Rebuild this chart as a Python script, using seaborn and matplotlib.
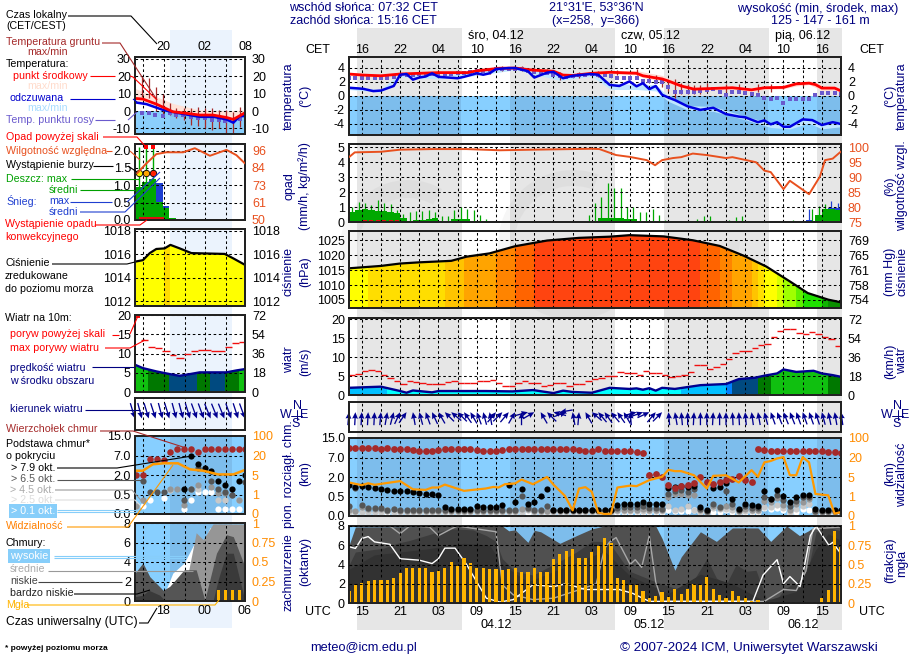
import numpy as np
import matplotlib
matplotlib.use("Agg")
import matplotlib.pyplot as plt
from matplotlib.patches import Wedge
import seaborn as sns

W, H = 910, 660
nan = float("nan")

# ---- main meteogram (hours since 13 UTC on 03.12)
hours = list(range(78))
day_bands = [(1.27, 17.53), (25.27, 41.53), (49.27, 65.53), (73.27, 77)]
cet_labels = ["16", "22", "04", "10", "16", "22", "04", "10", "16", "22", "04", "10", "16"]
utc_labels = ["15", "21", "03", "09", "15", "21", "03", "09", "15", "21", "03", "09", "15"]

temp_h = [0, 2.2, 5, 8, 14, 18.5, 20, 23.5, 26, 28.8, 32, 33.5, 35, 38, 41, 45, 46, 49, 50, 52, 54, 60, 63, 65, 68, 70, 72, 73, 74, 76, 77]
temp_mid = [3.1, 2.95, 2.85, 3.1, 3.3, 3.3, 3.55, 3.9, 3.95, 3.65, 3.5, 2.95, 2.9, 3.2, 3.35, 3.2, 2.85, 2.4, 2.1, 1.4, .95, 1.15, .85, 1.15, 1.2, 1.7, 1.8, 1.6, 1.1, 1.1, .7]
temp_hi = [3.3, 3.2, 3.1, 3.3, 3.5, 3.5, 3.8, 4.3, 4.2, 3.9, 3.7, 3.2, 3.1, 3.4, 3.6, 3.6, 3.4, 2.9, 2.5, 1.7, 1.3, 1.4, 1.2, 1.4, 1.4, 2.0, 2.1, 2.0, 1.5, 1.4, 1.0]
temp_lo = [2.9, 2.7, 2.6, 2.9, 3.1, 3.1, 3.3, 3.7, 3.7, 3.4, 3.2, 2.7, 2.6, 3.0, 3.1, 3.0, 2.6, 2.1, 1.8, 1.1, .7, .9, .6, .9, 1.0, 1.4, 1.6, 1.2, .7, .8, .4]

feels_h = [0, 2.2, 3.8, 5, 7, 8, 9, 10, 11, 12, 13, 14, 17, 18, 20, 21, 22, 23, 25, 26, 28, 29, 31, 32, 33.5, 35, 37.7, 39, 40.8, 42.3, 43.9, 45, 46, 47, 48, 49, 50, 51, 53, 55, 57, 59, 61, 62, 64, 65, 66, 67, 68, 69, 71, 72.5, 74, 75.7, 77]
feels = [1.15, 1.0, .67, .75, 1.4, 3.0, 3.1, 2.3, 2.6, 2.75, 3.2, 2.7, 2.5, 2.7, 3.2, 3.0, 3.2, 3.8, 3.95, 3.95, 3.5, 2.6, 3.3, 3.4, 2.5, 2.85, 3.1, 3.0, 1.55, 1.4, 2.05, 1.35, 1.8, .95, 1.4, .15, -.25, -.6, -1.5, -2, -1.7, -2.6, -2.95, -3.05, -3.75, -3.5, -4.05, -3.75, -4.4, -4.4, -3.35, -3.45, -4.15, -3.75, -4]
feels_shade_h = [0, 5, 8, 14, 20, 26, 33, 38, 41, 45, 48, 50, 53, 57, 62, 66, 69, 72, 74, 77]
feels_hi = [1.3, .9, 3.2, 2.9, 3.4, 4.2, 2.8, 3.2, 1.8, 1.6, 1.6, -.1, -1.4, -1.5, -2.9, -3.9, -4.2, -3.2, -3.9, -3.6]
feels_lo = [.9, .5, 2.7, 2.4, 2.9, 3.7, 2.2, 2.8, .9, .9, .7, -.8, -2.0, -2.2, -3.4, -4.5, -4.7, -3.9, -4.7, -4.4]

dew = [2.6, 2.6, 2.55, 2.6, 2.6, 2.55, 2.6, 2.7, 2.9, 3.0, 3.0, 3.05, 3.0, 3.1, 3.1, 3.1, 3.15, 3.2, 3.3, 3.4, 3.5, 3.6, 3.7, 3.75, 3.8, 3.85, 3.8, 3.75, 3.5, 3.4, 3.35, 3.3, 3.0, 2.8, 2.7, 2.8, 2.9, 3.0, 3.05, 3.0, 3.0, 2.75, 2.5, 2.5, 2.5, 2.5, 2.15, 2.15, 1.95, 2.0, 1.2, .6, .6, .6, .6, .7, .85, .95, .6, .15, .5, .5, .4, .2, .15, -.25, -.4, -.35, -1.05, -.45, -.4, -.45, -.5, .15, .4, .4, .4, .3]

ground_h = [20, 22, 24, 27, 29, 31, 33, 36, 39, 42, 45, 47, 48, 49, 50, 51, 52, 53, 54, 55, 56, 59, 61, 64, 66, 68, 71]
ground_max = [3.6, 3.7, 4.3, 4.2, 3.9, 3.8, 3.4, 3.4, 3.5, 3.7, 3.8, 3.0, 2.9, 2.5, 2.3, 2.4, 1.8, 1.7, 1.6, 1.6, 1.8, 1.7, 1.7, 1.7, 1.7, 1.6, 1.9]
ground_min = [3.0, 3.1, 3.6, 3.5, 3.2, 3.2, 2.2, 2.6, 2.7, 3.0, 2.9, 2.0, 1.8, 1.3, .7, -.3, .3, .3, .2, .2, .5, .5, .6, .6, .5, .9, 1.4]

rh_h = [0, .9, 5, 8, 13, 18.4, 23.6, 28.8, 38, 39.2, 41.8, 43.9, 46.6, 47.9, 49, 50.7, 52, 53.8, 56, 59, 60, 63.7, 65, 66, 68, 69, 71, 72, 73.7, 74.5, 75.7, 77]
rh = [96.7, 98.3, 98.5, 99.2, 99.4, 99.4, 99, 99.2, 99.5, 99.4, 97.4, 96.8, 95.7, 94, 95.7, 96.4, 96.7, 97.9, 97.4, 96.4, 96.7, 95, 92.2, 91.7, 86, 88.8, 85.8, 84.3, 90.2, 95.7, 96.2, 98.6]

rain_mean = [.65, .8, .85, .8, .75, .75, .7, .6, .25, .1, .12, .15, .2, .25,
             .02, .02, .2, .2, .2, .1, .08, .06, .02, .02, .02, .01,
             0, 0, 0, 0, 0, 0, 0, 0, 0, 0, 0, 0, .02,
             .25, .3, .3, .3, .2, .2, .1, .1, .1, .02,
             0, 0, 0, 0, 0, 0, 0, 0, 0, 0, 0, 0, 0, 0, 0, 0, 0, 0, 0, 0, 0, 0, 0,
             .1, .5, .85, .85, .8, .8]
rain_max_h = [.5, 1.5, 2.5, 3.5, 4.5, 5.5, 6.5, 7.5, 8.5, 9.5, 10.5, 11.5, 12.5, 13.5, 14.5, 15.5, 16.5, 17.5, 18.5, 19.5, 20.5, 21.5, 23.5, 25.5, 37.5, 38.5, 39.5, 40.5, 41.5, 42.5, 43.5, 44.5, 45.5, 46.5, 47.5, 48.5, 49.5, 54.5, 55.5, 56.5, 59.5, 60.5, 61.5, 62.5, 68.5, 69.5, 72.5, 73.5, 74.5]
rain_max = [1.0, 1.35, 1.25, 1.15, 1.45, 1.25, 1.2, .8, .55, .65, .75, .75, .8, .65, .4, .4, .8, 1.0, .85, .8, .5, .2, .1, .1, .45, 1.25, 1.65, 2.6, 2.25, 2.3, 1.0, 1.0, .7, .7, .85, .45, .15, .2, .4, .4, .15, .35, .4, .1, .1, .15, .9, 1.1, 1.2]
snow_h = [72, 75.5, 76.5]
snow_mean = [.15, .95, .95]
snow_max = [.9, 1.4, 1.25]
convective_h = [2.5, 3.5, 4.5, 5.5, 6.5, 7.5]

press_h = [0, 5, 8, 11, 16, 18.4, 22, 26, 31, 36, 40.8, 43.9, 49.2, 53.8, 58, 61.8, 65.3, 69, 71.8, 75, 77]
press = [1015.6, 1016.4, 1017.2, 1017.6, 1018.1, 1019.5, 1020.6, 1023, 1024.9, 1025.8, 1026.2, 1026.7, 1026.3, 1025, 1023.1, 1019.8, 1016.2, 1011.2, 1007.3, 1005.1, 1004.2]
press_bounds = [1005, 1006, 1008, 1010, 1012, 1014, 1016, 1018, 1019, 1021, 1023, 1024.3]
press_cols = ["#0a9000", "#10b400", "#20e000", "#60f000", "#a0ff00", "#d8ff00", "#ffff00", "#ffde00", "#ffc400", "#ffa400", "#ff8400", "#ff6400", "#ff4410"]

wind_h = [0, 5, 8, 9, 10, 13, 14, 18, 21.4, 25.6, 28.8, 32, 33.5, 35, 38, 39.2, 40.8, 42.3, 43.9, 45, 46, 47, 48, 49, 51, 53, 55, 59, 61, 63.5, 65, 67, 68, 70, 72.7, 74, 75.7, 77]
wind = [1.9, 2.2, 1.05, .6, 1.2, .7, 1.05, 1.05, 1.05, .95, 1.3, .5, 1.15, .8, .6, 1.15, 1.9, 1.75, 1.6, 1.75, 1.4, 1.8, 1.15, 1.9, 1.6, 2.1, 2.6, 2.9, 4.2, 4.55, 5.1, 5.7, 6.75, 6.1, 6.4, 5.7, 5.25, 4.8]
wind_bounds = [1.9, 3.0, 3.6, 4.9, 5.5]
wind_cols = ["#00ffff", "#00bfff", "#0080ff", "#004a80", "#007800", "#10c010"]
gust = [5.4, 5.6, 6.4, 6.7, 6.3, 5.2, 4.6, 3.7, 2.8, 3.6, 3.5, 3.3, 3.0, 2.9, 3.0, 3.5, 3.7, 3.3, 3.3, 3.2,
        3.6, 3.8, 3.9, 3.1, 2.5, 2.5, 3.3, 3.6, 3.3, 3.1, 2.4, 2.6, 3.3, 3.3, 2.5, 3.0, 3.0, 3.7, 4.2, 4.6,
        5.0, 5.1, 6, 5.7, 5.9, 5.4, 6.3, 5.7, 5.7, 5.2, 4.7, 4.9, 5.2, 6, 7.8, 7.8, 7, 7.3, 8.1, 9.6,
        11.2, 11.5, 11.7, 12.5, 13.2, 13.4, 15.2, 17, 17.5, 17.5, 16.4, 16.2, 16.7, 16.2, 15.2, 14.9, 13, 12.8]
wind_dir = [5, 3, 3, 3, 3, 5, 10, 15, 25, 35,
            -10, -15, -20, -25, -30, -45, -50, -45, -35, -30, -20, -15, -10,
            40, 45, 40, 30, 0, 75, 60,
            -30, -45, -75, -100, 70, -10, 5, -30, -50, -40,
            -35, -40, -35, -30, -5, 75, 70, 65, 40, 45,
            -5, -10, -5, 0, 3, 0, 0, 3, 0, 0, -3, -3,
            -5, -8, -10, -15, -20, -22, -22, -22, -20, -20, -20, -18, -15, -12, -10, -8]

# cloud heights are kept in tick steps of the uneven axis (0 / 0.5 / 2 / 7 / 15 km)
cloud_top = [3.47, 3.47, 3.47, 3.47, 3.47, 3.42, 3.47, 3.42, 3.42, 3.42, 3.38, 3.33, 3.33, 3.33, 3.38, 3.42, 3.42, 3.42, 3.42, 3.42,
             3.36, 3.33, 3.33, 3.33, 3.38, 3.42, 3.42, 3.42, 3.42, 3.42, 3.42, 3.42, 3.42, 3.42, 3.42, 3.42, 3.38, 3.33, 3.33, 3.42, 3.33,
             3.33, 3.33, 3.33, 3.33, 3.26, 3.21, 2.09, 2.13, 2.0, 1.61, 1.44, 1.55, 1.61, 1.67, 2.01, 1.72, 1.63, 1.72, 1.84, 1.92, 2.04, 1.84, 1.72,
             3.42, 3.38, 3.33, 3.33, 3.33, 3.33, 3.33, 3.33, 3.33, 3.33, 3.33, 3.3, 3.26, 3.23]
base_79 = [1.58, 1.49, 1.53, 1.51, 1.44, 1.36, 1.32, 1.29, 1.27, 1.27, 1.24, 1.2, 1.15, 1.12, 1.1, .46, .34, .34, .34, .38, .52, .45, .45, .46, .58,
           1.58, .74, 1.41, .62, .74, 1.03, 1.41, .29, .29, .29, .29, .29, .29, .29, .29, .29, .29,
           .55, .64, .64, .64, .72, .64, .6, .6, 1.46, 1.49, 1.55, 1.48, 1.53, .46, .29, 1.44, 1.49, 1.67, .89, .34, .64, .58, .5, 1.29, .86, 1.32, 1.01, .72, .98, 1.1, 1.1, .34, .31, .29, .29, .29]
base_65 = [.5, 1.43, .55, .42, .42, .42, .3, .36, .3, .29, .29, .29, .29, .29, .29, .29, .29, .29, .29, .29, .29, .29, .29, .29, .29, .29, .29,
           1.03, .43, .29, .29, .5, .29, .29, .29, .29, .29, .29, .29, .29, .29, .29,
           .4, .45, .45, .45, .5, .4, .4, .35, 1.15, 1.3, 1.35, 1.25, 1.4, .35, .25, .6, .45, 1.3, .6, .3, .5, .4, .4, 1.0, .85, 1.1, .8, .5, .75, .95, .95, .25, .25, .25, .25, .25]
base_45 = [.3, .27, .45, .38, .38, .38, .27, .38, .27, .27, .27, .27, .27, .27, .27, .27, .27, .27, .27, .27, .27, .27, .27, .27, .27, .27, .27,
           .38, .38, .27, .27, .27, .27, .27, .27, .27, .27, .27, .27, .27, .27, .27,
           .3, .3, .3, .3, .35, .3, .3, .3, 1.0, 1.15, 1.15, 1.1, 1.1, .3, .22, .5, .4, .5, .45, .25, .35, .3, .3, .75, .7, .9, .55, .3, .6, .7, .85, .22, .22, .22, .22, .22]
base_25 = [.22, .22, .22, .22, .22, .22, .3, .22, .22, .22, .22, .22, .22, .22, .22, .22, .22, .22, .22, .22, .22, .22, .22, .22, .22, .22, .22,
           .22, .3, .22, .22, .22, .22, .22, .22, .22, .22, .22, .22, .22, .22, .22,
           .25, .25, .25, .25, .25, .25, .25, .25, .5, .3, .35, .5, .3, .22, .2, .4, .35, .35, .3, .2, .25, .25, .25, .45, .45, .55, .4, .22, .35, .5, .6, .2, .2, .2, .2, .2]
base_01 = [.15, .15, .15, .15, .15, .15, .15, .15, .15, .15, .15, .15, .15, .15, .15, .15, .15, .15, .15, .15, .15, .15, .15, .15, .15, .15, .15,
           .15, .15, .15, .15, .15, .15, .15, .15, .15, .15, .15, .15, .15, .15, .15,
           .17, .2, .2, .2, .2, .2, .2, .2, .3, .25, .25, .25, .3, .18, .17, .22, .2, .3, .22, .17, .2, .2, .2, .4, .35, .4, .3, .17, .22, .35, .3, .29, .1, .1, .1, .1]
vis_h = [0, 2, 3, 4, 8, 10, 12, 13, 14, 15, 18, 21.4, 22.6, 23.4, 24.4, 26, 27, 28.8, 31, 32, 33.8, 35, 36, 37, 38, 39, 40, 41, 42, 44, 45, 47, 49, 50, 51, 52, 54, 56, 57, 59, 61, 63, 64, 65, 66, 67, 68, 69, 70, 71, 72, 73, 75, 76, 77]
vis = [1.72, 1.58, 1.68, 1.6, 1.79, 1.37, 1.34, 1.46, 1.46, 1.61, 1.29, 1.41, 1.49, 1.46, 1.63, 1.67, 1.87, 1.63, 2.0, 1.61, 1.03, .29, 1.41, 1.48, 1.24, .17, .1, .12, 1.46, 1.56, 1.53, 1.84, 2.01, 2.37, 2.3, 2.3, 2.09, 1.41, 2.06, 2.09, 1.72, 2.35, 2.01, 2.75, 2.82, 2.95, 3.02, 2.09, 2.09, 3.02, 2.75, 1.13, 1.06, .12, .2]

cloud_low_h = [0, 1, 24, 25, 26, 28, 29, 30, 33, 35.6, 38, 40, 48, 49, 51, 52, 55, 57.5, 60, 64, 66, 68.5, 70.5, 71.9, 73, 77]
cloud_low = [6.0, 7.9, 8, 7.5, 7.6, 6.3, 7.55, 7.4, 6.2, 7, 7.7, 8, 8, 6.7, 3.4, 4.8, 7.4, 6.4, 7.8, 7.8, 6.4, 8, 7, 7.5, 8, 8]
cloud_mid_h = [0, 1, 5.4, 7.5, 9.5, 13, 16, 19.4, 21.5, 23, 24, 26, 28.8, 32, 35.6, 38, 39.2, 40.8, 42.3, 43.9, 45.4, 48, 51.2, 53.8, 56, 57.5, 59, 60.6, 62.2, 63.7, 65.3, 66.8, 68.3, 70, 71.8, 73.1, 74.7, 77]
cloud_mid = [3.95, 5.3, 5.7, 6.2, 6.5, 7.2, 7.7, 7.6, 7, 6.4, 4.6, 3.3, 2.9, 4, 5.3, 6.4, 6.4, 6.2, 4.8, 3.3, 2.9, 2.2, 1.5, 2.2, 4.6, 2.6, 1.9, 4, 3.3, 3.4, .5, .3, 1.5, 2.2, 3.3, 7.4, 7.9, 7.5]
cloud_vlow_h = [0, 4, 12, 18, 22, 24, 28, 34, 40, 44, 50, 55, 60, 65, 70, 73, 75, 77]
cloud_vlow = [3.5, 5, 5.6, 6.2, 6, 4, 2.2, 3.8, 5.4, 2.8, 1.0, 3, 2, .2, 1.2, 5.5, 7.2, 6.5]
high_h = [0, 1, 2, 3, 4, 6.4, 8, 11, 13, 14, 15, 16.6, 18.4, 21.5, 23.6, 25.7, 28.8, 32, 34, 37, 40.8, 42.3, 44.4, 47, 63.2, 64.8, 67, 68, 69, 70.6, 71.2, 72.2, 73.1, 75.1, 75.7, 77]
high = [5.85, 5.67, 6.7, 6.9, 6.35, 6.1, 4.6, 4.45, 4.1, 4.6, 5.7, 5.7, 4, .5, .1, .35, 1.9, 1.7, 2, 1.4, 1.4, 1.4, 1, .17, .17, 2.9, 4.5, 2, 2.75, 1.7, 3.6, 7, 8, 6, 6.3, 5.1]
mid_h = [0, 6.4, 8, 9.5, 12.6, 14, 16, 17, 23, 24, 25.7, 28.8, 32, 36.6, 38.7, 40, 40.8, 41.8, 44, 44.8, 45.8, 47, 48, 49, 65, 68, 70, 71.5, 72.6, 77]
mid = [8, 8, 7.2, 8, 7.9, 7, 7.7, 8, 7.4, 1.9, .85, .35, .5, 1.5, 2, 5.67, 6.35, 6.8, 4, 4.5, 3.7, 7, 2.2, .17, .17, 1.4, 1.3, 3.3, 7.7, 7.9]
fog = [.15, .24, .26, .29, .3, .3, .3, .33, .39, .45, .46, .45, .46, .4, .42, .46, .53, .48, .58, .52,
       .46, .46, .44, .44, .43, .44, .45, .4, .4, .46, .4, .4, .57, .64, .68, .7, .59, .59, .66, .74, .84,
       .78, .33, .3, .24, .24, .16, .06, .09, .14, .08, .18, .12, .18, .25, .24, .34, .18, .11, .06, .16, .09, .06, .02, .04,
       0, 0, 0, 0, 0, 0, 0, 0, 0, .06, .17, .93, .73]

# ---- small left panel (hours since 14 UTC)
l_temp_h = [0, 1.15, 3.1, 5.5, 7.5, 9.4, 11.35, 13.3, 14.3, 16]
l_temp = [7.3, 6.9, 4, -.4, -1.3, -2.3, -2.3, -3.7, -4.8, -1]
l_feels_h = [0, 1.65, 4.1, 6.5, 9.4, 11.35, 13.3, 14.3, 15.25, 16]
l_feels = [5, 4, .6, -1.3, -3.3, -3.3, -4.8, -6.7, -2.9, -2.9]
l_shade_h = [0, 3.1, 5.5, 9.4, 13.3, 16]
l_temp_hi = [13, 8.3, 4.4, .6, .2, .6]
l_temp_lo = [6, 3, -1, -3, -5, -2]
l_feels_hi = [-1, -2, -3, -4, -5, -3]
l_feels_lo = [-10, -11, -12, -13, -13, -11]
l_dew_h = [1, 2, 2.9, 4.1, 5.05, 6, 7, 8.2, 9.2, 10.15, 11.2, 12.2, 13.15, 15.25]
l_dew = [-1.3, -1.3, -2.3, -2.9, -1.3, -2.3, -2.3, -3.3, -4.2, -4.2, -5.2, -5.2, -5.6, -4.8]
l_gr_h = [1, 2, 3.1, 4.1, 5.05, 6, 7.15, 8.2, 9.2, 10.15, 11.2, 12.2, 13.3, 14.3, 15.25]
l_gr_max = [19.8, 18.8, 13.6, 10, 4.4, 1.5, 1.5, 1.5, 2.1, 1.5, 1.5, .6, .6, -.4, 2.5]
l_gr_min = [8.3, 7.7, -.2, -3, -2.3, -4.2, -5.2, -8, -8.6, -10, -11, -10, -12.7, -12.7, -9]

l_rh_h = [.3, 1.65, 3.1, 4.55, 7, 8.7, 10.9, 13.3, 14.75, 16]
l_rh = [81, 87.5, 93.7, 94.9, 94.9, 97.6, 92.6, 96.5, 93, 87.5]
l_rain = [.96, 1.1, 1.18, .53, .34, .05]
l_snow_h = [3.5, 4.5]
l_snow = [1.08, .41]
l_rain_max_h = [.6, 1.55, 2.6]
l_storm_cols = ["#ffee00", "#ffa500", "#ff2000"]

l_press_h = [0, 1.15, 2.15, 3.1, 4.3, 5.15, 6.5, 8.2, 13.05, 14.3, 16]
l_press = [1015.37, 1015.5, 1016.1, 1016.45, 1016.5, 1016.8, 1016.5, 1016.1, 1016.03, 1015.65, 1015.1]

l_wind_h = [0, 1.15, 3.1, 5.05, 6.5, 8, 9.4, 13.3, 14.75, 16]
l_wind = [7.07, 6.2, 5.35, 4.65, 4.2, 4.65, 5.1, 5.1, 5.6, 5.95]
l_wind_edges = [0, 1.84, 4.9, 9, 10.96, 13.15, 15.1, 16]
l_wind_cols = ["#10c010", "#007800", "#004a80", "#007800", "#004a80", "#007800", "#10c010"]
l_gust_start = [.9, 1.9, 2.9, 3.9, 5.05, 6, 7.15, 8.1, 9.1, 11.1, 13.15, 14.1, 15.1]
l_gust_end = [1.9, 2.9, 3.9, 5.05, 6, 7.15, 8.1, 9.1, 11.1, 13.15, 14.1, 15.1, 16]
l_gust = [13.5, 11.7, 11.4, 10.6, 9.7, 8.9, 9.8, 10.6, 10.9, 10.6, 11.7, 12.7, 12.9]
l_dir = [163, 165, 163, 162, 165, 163, 165, 165, 163, 160, 160, 158, 158, 158, 160, 162, 160]

l_dot_h = [.2, 1.15, 2.15, 3.2, 4.2, 5.15, 6.1, 7.15, 8.1, 9.2, 10.15, 11.1, 12.1, 13.15, 14.1, 15.1, 16]
l_top = [2.0, 2.0, 2.82, 2.82, 2.77, 3.2, 3.32, 3.32, 3.32, 3.2, 3.32, 3.32, 3.32, 3.32, 3.32, 3.32, 3.32]
l_b79 = [nan, nan, nan, nan, nan, nan, nan, 1.26, 2.97, 2.55, 2.34, 2.2, 1.69, 1.49, 1.26, 1.69, 2.0]
l_b65 = [nan, 1.69, 1.11, 1.11, 1.11, nan, nan, .72, 1.26, 2.34, nan, 1.69, 1.26, 1.11, .97, nan, 1.66]
l_b45 = [.41, .72, nan, nan, nan, 1.26, 1.26, .46, 1.26, 1.49, nan, 1.4, 1.06, 1.06, .97, .72, nan]
l_b25 = [.41, nan, nan, nan, nan, 1.22, nan, nan, nan, 1.26, nan, nan, .72, .72, nan, .72, nan]
l_b01 = [nan, .41, .72, nan, .8, nan, nan, .24, .72, 1.15, 1.15, 1.15, .24, .24, .24, .24, nan]
l_vis_h = [0, 1.15, 2.6, 4.1, 6.25, 8, 9.9, 12.1, 14.3, 16]
l_vis = [2.22, 2.22, 2.55, 2.6, 2.6, 2.29, 2.22, 2.03, 2.03, 2.26]

l_high_h = [0, 4.3, 5.5, 7.15, 8.7, 9.9, 10.9, 14.3, 16]
l_high = [0, .8, 2.86, 3.9, 6, 6, 7.5, 7.7, 6]
l_mid_h = [0, 6.5, 7.15, 8.9, 9.9, 11.35, 16]
l_mid = [0, 0, .8, 7, 6.3, 7.9, 7.9]
l_low_h = [0, 1.15, 2.15, 4.1, 5.05, 7.15, 8.9, 10.15, 11.85, 13.3, 14.3, 16]
l_low = [2.86, 3.9, 2.5, 1.1, 1.5, 3.2, 3.2, .1, 4.9, 6.8, 6.6, 3.5]
l_vlow_h = [0, 1.15, 2, 3.6, 4.4, 11.35, 12.1, 13.3, 14.3, 16]
l_vlow = [.45, .6, 1.1, .6, 0, 0, 2.2, 4.9, 4.9, 0]
l_fog_h = [12.2, 13.2, 14.2, 15.2]
l_fog = [.14, .14, .14, .14]

# ---- colours and page positions
NAVY = "#000080"
ORANGE = "#ff8c00"
RH_COL = "#e8501e"
SKY = "#87cefa"
SKY_DAY = "#87cfff"
SKY_BAND = "#7dbdec"
BROWN = "#a52a2a"
PURPLE = "#6a5acd"
GOLD = "#ffb400"
MAIN_X = (349, 841)
LEFT_X = (135, 245)
PANEL_MAIN_Y = {"temp": (57, 135), "rain": (144, 222), "press": (231, 308), "wind": (318, 395),
                "dir": (402, 432), "base": (438, 516), "cover": (526, 603)}
PANEL_LEFT_Y = {"temp": (57, 134), "rain": (144, 220), "press": (229, 306), "wind": (315, 392),
                "dir": (398, 430), "base": (436, 514), "cover": (523, 601)}

sns.set_theme(style="white")
plt.rcParams["font.family"] = ["Liberation Sans", "DejaVu Sans"]
plt.rcParams["grid.color"] = "black"
plt.rcParams["grid.linewidth"] = 0.75
plt.rcParams["grid.linestyle"] = (0, (2.5, 2.5))

fig = plt.figure(figsize=(W / 100, H / 100), dpi=100, facecolor="white")


def hx(h):
    return MAIN_X[0] + (MAIN_X[1] - MAIN_X[0]) * h / 77


def make_ax(xr, yr, zorder=2):
    ax = fig.add_axes([xr[0] / W, 1 - yr[1] / H, (xr[1] - xr[0]) / W, (yr[1] - yr[0]) / H], zorder=zorder)
    ax.patch.set_visible(False)
    return ax


def style(ax, xticks, xlim, ylim, yticks, ylabels, rlabels, rcolor="black", rlim=None, rticks=None, size=9):
    ax.set_xlim(xlim)
    ax.set_ylim(ylim)
    ax.set_xticks(xticks)
    ax.set_xticklabels([])
    ax.set_yticks(yticks)
    ax.set_yticklabels(ylabels, fontsize=size, color="black")
    ax.tick_params(length=0, pad=3)
    ax.grid(True)
    ax.set_axisbelow(False)
    ax.set_xlabel("")
    ax.set_ylabel("")
    tw = ax.twinx()
    tw.patch.set_visible(False)
    tw.set_ylim(rlim if rlim else ylim)
    tw.set_yticks(rticks if rticks else yticks)
    tw.set_yticklabels(rlabels, fontsize=size, color=rcolor)
    tw.tick_params(length=0, pad=5)
    tw.grid(False)
    tw.set_ylabel("")
    for a in (ax, tw):
        for s in a.spines.values():
            s.set_linewidth(1.4)
            s.set_color("#222222")
    return tw


def line(ax, x, y, color, lw=1.5, zorder=4):
    sns.lineplot(x=x, y=y, color=color, linewidth=lw, ax=ax, zorder=zorder, errorbar=None, legend=False)


def dots(ax, x, y, color, s=17, marker="o", zorder=4):
    sns.scatterplot(x=x, y=y, color=color, s=s, marker=marker, linewidth=0, ax=ax, zorder=zorder, legend=False)


def sky(ax, x0, x1, y0, y1, bands):
    ax.fill_between([x0, x1], y0, y1, color=SKY_DAY, linewidth=0, zorder=1)
    for a, b in bands:
        ax.fill_between([a, b], y0, y1, color=SKY_BAND, linewidth=0, zorder=1.1)


def level_colour(v, bounds, cols):
    return cols[int(np.searchsorted(bounds, v))]


def clipped_bars(ax, x, y, bottom, colours, edges=None):
    # hourly colour columns cut down to the outline of the series
    outline = ax.fill_between(x, y, bottom, color="none", linewidth=0)
    path = outline.get_paths()[0]
    left = edges[:-1]
    widths = np.diff(edges)
    bars = ax.bar(left, 1000, width=widths, bottom=bottom, align="edge", color=colours, linewidth=0, zorder=1.2)
    for b in bars:
        b.set_clip_path(path, ax.transData)


# ---- page background
bg = fig.add_axes([0, 0, 1, 1], zorder=-5)
bg.set_xlim(0, W)
bg.set_ylim(H, 0)
bg.axis("off")
for a, b in day_bands:
    bg.fill_between([hx(a), hx(b) + 1], 28, 630, color="#e6e6e6", linewidth=0)
bg.fill_between([170, 232], 30, 628, color="#ebf3fd", linewidth=0)
bg.add_patch(Wedge((408, 248), 68, 80, 300, width=18, color="#808080", alpha=0.07, linewidth=0))
bg.add_patch(Wedge((573, 245), 75, 60, 290, width=16, color="#808080", alpha=0.07, linewidth=0))
bg.add_patch(Wedge((700, 240), 40, 0, 180, width=12, color="#808080", alpha=0.05, linewidth=0))

main_grid = list(range(2, 77, 3))
left_grid = [1.2, 4.2, 7.2, 10.2, 13.2]
left_band = [(5.09, 14.1)]
xm = (0, 77)
xl = (0, 16)

# ---- temperature
ax = make_ax(MAIN_X, PANEL_MAIN_Y["temp"])
style(ax, main_grid, xm, (-5.57, 5.52), [-4, -2, 0, 2, 4], ["-4", "-2", "0", "2", "4"], ["-4", "-2", "0", "2", "4"])
sky(ax, 0, 77, -5.57, 0, day_bands)
ax.fill_between(temp_h, temp_lo, temp_hi, color="#ffd9d2", linewidth=0, zorder=1.3)
ax.fill_between(feels_shade_h, feels_lo, feels_hi, color="#bfe6ff", linewidth=0, zorder=1.3)
ax.vlines(ground_h, ground_min, ground_max, color=BROWN, linewidth=0.9, zorder=3.5)
dots(ax, hours, dew, PURPLE, s=7, marker="s", zorder=3.6)
line(ax, temp_h, temp_mid, "#ff0000", 2)
line(ax, feels_h, feels, "#0000e0", 1.8)

ax = make_ax(LEFT_X, PANEL_LEFT_Y["temp"])
style(ax, left_grid, xl, (-13.2, 31.1), [-10, 0, 10, 20, 30], ["-10", "0", "10", "20", "30"], ["-10", "0", "10", "20", "30"])
sky(ax, 0, 16, -13.2, 0, left_band)
ax.fill_between(l_shade_h, l_temp_lo, l_temp_hi, color="#ffe2d8", linewidth=0, zorder=1.3)
ax.fill_between(l_shade_h, l_feels_lo, l_feels_hi, color="#8fd0fb", alpha=0.6, linewidth=0, zorder=1.3)
ax.vlines(l_gr_h, l_gr_min, l_gr_max, color=BROWN, linewidth=0.9, zorder=3.5)
dots(ax, l_dew_h, l_dew, PURPLE, s=9, marker="s", zorder=3.6)
line(ax, l_feels_h, l_feels, "#0000e0", 1.8)
line(ax, l_temp_h, l_temp, "#ff0000", 2)

# ---- precipitation and humidity
ax = make_ax(MAIN_X, PANEL_MAIN_Y["rain"])
tw = style(ax, main_grid, xm, (0, 5.22), [0, 1, 2, 3, 4, 5], ["0", "1", "2", "3", "4", "5"],
           ["75", "80", "85", "90", "95", "100"], RH_COL, (75, 101.1), [75, 80, 85, 90, 95, 100])
ax.bar(hours, rain_mean, width=1, align="edge", color="#00a800", linewidth=0, zorder=1.5)
ax.vlines(rain_max_h, 0, rain_max, color="#00a800", linewidth=0.9, zorder=1.5)
ax.bar(snow_h, snow_mean, width=1, align="center", color="#1f3fd0", linewidth=0, zorder=1.4)
ax.vlines(snow_h, 0, snow_max, color="#1f3fd0", linewidth=0.9, zorder=1.4)
dots(ax, convective_h, [0.02] * len(convective_h), "#e01010", s=7, marker="s", zorder=4)
line(tw, rh_h, rh, RH_COL, 1.4)

ax = make_ax(LEFT_X, PANEL_LEFT_Y["rain"])
tw = style(ax, left_grid, xl, (0, 2.19), [0, .5, 1, 1.5, 2], ["0.0", "0.5", "1.0", "1.5", "2.0"],
           ["50", "61", "73", "84", "96"], RH_COL, (50, 100.4), [50, 61.5, 73, 84.5, 96])
ax.bar(l_snow_h, l_snow, width=1, color="#1f3fd0", linewidth=0, zorder=1.4)
ax.bar(list(range(len(l_rain))), l_rain, width=1, align="edge", color="#00a800", linewidth=0, zorder=1.5)
ax.vlines(l_rain_max_h, [.96, 1.1, 1.18], 2.1, color="#00a800", linewidth=1, zorder=3)
dots(ax, l_rain_max_h[1:], [2.1, 2.1], "#ff0000", s=10, marker="s", zorder=4.5)
for h, c in zip(l_rain_max_h, l_storm_cols):
    ax.plot(h, 1.35, "o", color=c, markeredgecolor="black", markeredgewidth=.6, markersize=4.6, zorder=5)
dots(ax, [.9, 1.4, 1.9, 2.4, 2.9, 3.4, 3.9], [0.015] * 7, "#e01010", s=5, marker="s", zorder=4)
line(tw, l_rh_h, l_rh, RH_COL, 1.4)

# ---- pressure
ax = make_ax(MAIN_X, PANEL_MAIN_Y["press"])
press_ticks = [1005, 1010, 1015, 1020, 1025]
style(ax, main_grid, xm, (1002.3, 1028.1), press_ticks, [str(t) for t in press_ticks], ["754", "758", "761", "765", "769"])
edges = np.arange(0, 78)
hourly = np.interp(edges[:-1] + 0.5, press_h, press)
clipped_bars(ax, press_h, press, 1002.3, [level_colour(v, press_bounds, press_cols) for v in hourly], edges)
line(ax, press_h, press, "black", 1.6)

ax = make_ax(LEFT_X, PANEL_LEFT_Y["press"])
style(ax, left_grid, xl, (1011.6, 1018.15), [1012, 1014, 1016, 1018], ["1012", "1014", "1016", "1018"], ["1012", "1014", "1016", "1018"])
ax.fill_between(l_press_h, l_press, 1011.6, color="#ffff00", linewidth=0, zorder=1.2)
clipped_bars(ax, l_press_h, l_press, 1011.6, ["#ffdc00"], np.array([4.2, 5.1]))
line(ax, l_press_h, l_press, "black", 1.6)

# ---- wind
ax = make_ax(MAIN_X, PANEL_MAIN_Y["wind"])
style(ax, main_grid, xm, (0, 20.35), [0, 5, 10, 15, 20], ["0", "5", "10", "15", "20"], ["0", "18", "36", "54", "72"])
hourly = np.interp(edges[:-1] + 0.5, wind_h, wind)
clipped_bars(ax, wind_h, wind, 0, [level_colour(v, wind_bounds, wind_cols) for v in hourly], edges)
ax.hlines(gust, hours, [min(h + 1, 77) for h in hours], color="#f01010", linewidth=1, zorder=4)
line(ax, wind_h, wind, "#000090", 1.7)

ax = make_ax(LEFT_X, PANEL_LEFT_Y["wind"])
style(ax, left_grid, xl, (0, 20), [0, 5, 10, 15, 20], ["0", "5", "10", "15", "20"], ["0", "18", "36", "54", "72"])
clipped_bars(ax, l_wind_h, l_wind, 0, l_wind_cols, np.array(l_wind_edges))
ax.hlines(l_gust, l_gust_start, l_gust_end, color="#f01010", linewidth=1, zorder=4)
dots(ax, [.45], [19.7], "#f01010", s=8, marker="s", zorder=4)
line(ax, l_wind_h, l_wind, "#000090", 1.7)

# ---- wind direction
ax = make_ax(MAIN_X, PANEL_MAIN_Y["dir"])
style(ax, main_grid, xm, (0, 1), [], [], [])
ang = np.radians(wind_dir)
ax.quiver(hours, [0.66] * 78, np.sin(ang), np.cos(ang), angles="uv", units="dots", scale_units="dots", scale=1 / 13,
          pivot="tip", width=1.3, headwidth=4.5, headlength=5, headaxislength=4.5, color="#000090", zorder=4, clip_on=False)

ax = make_ax(LEFT_X, PANEL_LEFT_Y["dir"])
style(ax, left_grid, xl, (0, 1), [], [], [])
ang = np.radians(l_dir)
ax.quiver(list(range(17)), [0.36] * 17, np.sin(ang), np.cos(ang), angles="uv", units="dots", scale_units="dots", scale=1 / 16,
          pivot="tip", width=1.3, headwidth=4.5, headlength=5, headaxislength=4.5, color="#000090", zorder=4, clip_on=False)

# ---- cloud base, cloud top, visibility
km_labels = ["0.0", "0.5", "2.0", "7.0", "15.0"]
vis_labels = ["0", "1", "5", "20", "100"]
ax = make_ax(MAIN_X, PANEL_MAIN_Y["base"])
style(ax, main_grid, xm, (0, 4), [0, 1, 2, 3, 4], km_labels, vis_labels, ORANGE)
sky(ax, 0, 77, 0, 4, day_bands)
for series, col in [(base_01, "white"), (base_25, "#c8c8c8"), (base_45, "#969696"), (base_65, "#555555"), (base_79, "black")]:
    dots(ax, hours, series, col, s=20)
dots(ax, hours, cloud_top, BROWN, s=24)
line(ax, vis_h, vis, "#ff9900", 1.6, zorder=5)

ax = make_ax(LEFT_X, PANEL_LEFT_Y["base"])
style(ax, left_grid, xl, (0, 4), [0, 1, 2, 3, 4], km_labels, vis_labels, ORANGE)
sky(ax, 0, 16, 0, 4, left_band)
for series, col in [(l_b01, "white"), (l_b25, "#c8c8c8"), (l_b45, "#969696"), (l_b65, "#555555"), (l_b79, "black")]:
    dots(ax, l_dot_h, series, col, s=20)
dots(ax, l_dot_h, l_top, BROWN, s=22)
line(ax, l_vis_h, l_vis, "#ff9900", 1.8, zorder=5)

# ---- cloud cover and fog
fog_labels = ["0", "0.25", "0.5", "0.75", "1"]
fog_ticks = [0, .25, .5, .75, 1]
ax = make_ax(MAIN_X, PANEL_MAIN_Y["cover"])
tw = style(ax, main_grid, xm, (0, 8), [0, 2, 4, 6, 8], ["0", "2", "4", "6", "8"], fog_labels, ORANGE, (0, 1), fog_ticks)
sky(ax, 0, 77, 0, 8, day_bands)
ax.fill_between(cloud_low_h, cloud_low, 0, color="#505050", linewidth=0, zorder=1.2)
ax.fill_between(cloud_mid_h, cloud_mid, 0, color="#3c3c3c", linewidth=0, zorder=1.3)
ax.fill_between(cloud_vlow_h, cloud_vlow, 0, color="#323232", linewidth=0, zorder=1.4)
line(ax, mid_h, mid, "#a8a8a8", 1, zorder=1.5)
line(ax, high_h, high, "white", 1, zorder=1.6)
sns.barplot(x=hours, y=fog, native_scale=True, width=.5, color=GOLD, saturation=1, errorbar=None,
            linewidth=0, edgecolor="none", ax=tw)
tw.set_xlim(xm)
tw.set_xticks(main_grid)
tw.xaxis.grid(True)
tw.yaxis.grid(True)
tw.set_axisbelow(False)
tw.set_ylim(0, 1)
tw.set_yticks(fog_ticks)
tw.set_yticklabels(fog_labels, fontsize=9, color=ORANGE)
tw.set_xlabel("")
tw.set_ylabel("")
tw.tick_params(length=0, labelbottom=False)

ax = make_ax(LEFT_X, PANEL_LEFT_Y["cover"])
tw = style(ax, left_grid, xl, (0, 8), [0, 2, 4, 6, 8], ["0", "2", "4", "6", "8"], fog_labels, ORANGE, (0, 1), fog_ticks)
sky(ax, 0, 16, 0, 8, left_band)
ax.fill_between(l_high_h, l_high, 0, color="white", linewidth=0, zorder=1.2)
ax.fill_between(l_mid_h, l_mid, 0, color="#969696", linewidth=0, zorder=1.3)
ax.fill_between(l_low_h, l_low, 0, color="#555555", linewidth=0, zorder=1.4)
ax.fill_between(l_vlow_h, l_vlow, 0, color="#3a3a3a", linewidth=0, zorder=1.5)
tw.bar(l_fog_h, l_fog, width=.45, color=GOLD, linewidth=0)
tw.xaxis.grid(True)
tw.set_xticks(left_grid)
tw.tick_params(labelbottom=False)
tw.set_axisbelow(False)

# ---- text and leader lines, all in page pixels
ov = fig.add_axes([0, 0, 1, 1], zorder=10)
ov.set_xlim(0, W)
ov.set_ylim(H, 0)
ov.axis("off")


def put(x, y, s, color="black", size=9, ha="left", rot=0, **kw):
    ov.text(x, y, s, color=color, fontsize=size, ha=ha, va="center", rotation=rot, rotation_mode="anchor", **kw)


header = [(363, 8, "wschód słońca: 07:32 CET"), (363, 21, "zachód słońca: 15:16 CET"),
          (596, 8, "21°31'E, 53°36'N"), (596, 21, "(x=258,  y=366)"),
          (818, 9, "wysokość (min, środek, max)"), (820, 21, "125 - 147 - 161 m")]
for x, y, s in header:
    put(x, y, s, NAVY, ha="center")
for x, s in [(496, "śro, 04.12"), (650, "czw, 05.12"), (803, "pią, 06.12")]:
    put(x, 36, s, ha="center")
for x, s in [(496, "04.12"), (649, "05.12"), (803, "06.12")]:
    put(x, 625, s, ha="center")
for i, s in enumerate(cet_labels):
    put(hx(2 + 6 * i), 50, s, ha="center")
for i, s in enumerate(utc_labels):
    put(hx(2 + 6 * i), 612, s, ha="center")
for x in (318, 872):
    put(x, 50, "CET", ha="center")
    put(x, 612, "UTC", ha="center")
for x, a, b in [(163, "20", "18"), (204, "02", "00"), (245, "08", "06")]:
    put(x, 47, a, ha="center")
    put(x, 611, b, ha="center")
put(364, 648, "meteo@icm.edu.pl", NAVY, 9.2, ha="center")
put(749, 648, "© 2007-2024 ICM, Uniwersytet Warszawski", NAVY, 9.6, ha="center")
put(5, 648, "* powyżej poziomu morza", size=6, fontweight="bold")

axis_titles = [(289, 96, "temperatura"), (289, 186, "opad"), (289, 272, "ciśnienie"), (289, 360, "wiatr"),
               (289, 474, "pion. rozciągł. chm."), (289, 572, "zachmurzenie"),
               (902, 96, "temperatura"), (902, 186, "wilgotność wzgl."), (902, 272, "ciśnienie"),
               (902, 361, "wiatr"), (902, 475, "widzialność"), (902, 563, "mgła"),
               (305, 96, "(°C)"), (305, 186, "(mm/h, kg/m²/h)"), (305, 272, "(hPa)"), (305, 362, "(m/s)"),
               (305, 474, "(km)"), (305, 562, "(oktanty)"),
               (890, 96, "(°C)"), (890, 186, "(%)"), (890, 272, "(mm Hg)"), (890, 361, "(km/h)"),
               (890, 474, "(km)"), (890, 560, "(frakcja)")]
for x, y, s in axis_titles:
    ov.text(x, y, s, color=NAVY, fontsize=9, ha="center", va="center", rotation=90)

for cx in (297, 898):
    ov.plot([cx - 6, cx + 5], [416, 416], color=NAVY, lw=.7)
    ov.plot([cx, cx], [410, 420], color=NAVY, lw=.7)
    put(cx - 11, 415, "W", NAVY, 9, ha="center")
    put(cx, 406, "N", NAVY, 9, ha="center")
    put(cx + 7, 415, "E", NAVY, 9, ha="center")
    put(cx - 1, 424, "S", NAVY, 9, ha="center")

side_labels = [(6, 15, "Czas lokalny", "black"), (6, 26, "(CET/CEST)", "black"),
               (6, 42, "Temperatura gruntu", BROWN), (27, 52, "max/min", BROWN),
               (6, 64, "Temperatura:", "black"), (13, 76, "punkt środkowy", "#ff0000"),
               (27, 86, "max/min", "#ffdccc"), (10, 98, "odczuwana", "#0000cd"),
               (27, 108, "max/min", "#a8dcff"), (6, 120, "Temp. punktu rosy", PURPLE),
               (6, 137, "Opad powyżej skali", "#ff0000"), (6, 151, "Wilgotność względna", RH_COL),
               (6, 165, "Wystąpienie burzy", "black"), (6, 179, "Deszcz: max", "#00a000"),
               (49, 190, "średni", "#00a000"), (6, 201, "Śnieg:", "#1f3fd0"),
               (49, 201, "max", "#1f3fd0"), (49, 212, "średni", "#1f3fd0"),
               (5, 224, "Wystąpienie opadu", "#ff0000"), (5, 237, "konwekcyjnego", "#ff0000"),
               (5, 263, "Ciśnienie", "black"), (5, 276, "zredukowane", "black"), (5, 289, "do poziomu morza", "black"),
               (5, 318, "Wiatr na 10m:", "black"), (10, 334, "poryw powyżej skali", "#ff0000"),
               (10, 348, "max porywy wiatru", "#ff0000"), (10, 368, "prędkość wiatru", NAVY),
               (10, 381, "w środku obszaru", NAVY), (10, 409, "kierunek wiatru", NAVY),
               (6, 429, "Wierzchołek chmur", BROWN), (6, 444, "Podstawa chmur*", "black"), (6, 456, "o pokryciu", "black"),
               (11, 468, "> 7.9 okt.", "black"), (11, 479, "> 6.5 okt.", "#555555"),
               (10, 490, "> 4.5 okt.", "#aaaaaa"), (11, 500, "> 2.5 okt.", "#dddddd"),
               (6, 526, "Widzialność", "#ff8000"), (6, 543, "Chmury:", "black"),
               (10, 569, "średnie", "#aaaaaa"), (10, 581, "niskie", "#444444"),
               (10, 593, "bardzo niskie", "#222222"), (6, 605, "Mgła", GOLD)]
for x, y, s, c in side_labels:
    put(x, y, s, c, 7.7)
put(6, 622, "Czas uniwersalny (UTC)", "black", 8.7)
for x, y, s in [(11, 511, "> 0.1 okt."), (10, 556, "wysokie")]:
    put(x, y, s, "white", 7.7, bbox=dict(facecolor=SKY, edgecolor="none", pad=1.5))

leaders = [("black", [68, 131, 157], [16, 16, 44]),
           (BROWN, [102, 120, 157], [43, 43, 100]),
           ("#ff0000", [90, 115], [76, 76]), ("#ff0000", [130, 133, 157], [76, 77, 100]),
           ("#0000cd", [70, 115], [99, 99]), ("#0000cd", [133, 137], [99, 102]),
           (PURPLE, [95, 115], [120, 120]), (PURPLE, [128, 137], [120, 112]),
           ("#ff0000", [103, 137, 146], [137, 137, 147]),
           (RH_COL, [106, 112], [151, 151]), (RH_COL, [130, 140], [151, 160]),
           ("black", [93, 113], [166, 166]), ("black", [128, 137], [166, 172]),
           ("#00a000", [71, 139], [179, 179]), ("#00a000", [80, 135], [190, 190]),
           ("#1f3fd0", [70, 112], [202, 202]), ("#1f3fd0", [127, 160], [202, 172]),
           ("#1f3fd0", [80, 125, 160], [212, 212, 178]),
           ("#ff0000", [95, 140, 147], [225, 225, 220]),
           ("black", [52, 127, 135], [264, 264, 262]),
           ("#ff0000", [112, 119], [335, 335]), ("#ff0000", [130, 138], [334, 316]),
           ("#ff0000", [105, 130, 145], [348, 348, 340]),
           (NAVY, [92, 135], [367, 367]), (NAVY, [85, 140], [410, 410]),
           (BROWN, [100, 133, 183], [431, 431, 447]),
           ("black", [57, 117, 192], [468, 468, 456]), ("#555555", [57, 143], [480, 480]),
           ("#999999", [55, 132, 145], [490, 490, 505]), ("#dddddd", [55, 135, 140], [500, 500, 505]),
           (SKY, [57, 143], [510, 510]), (SKY, [57, 143], [512, 512]),
           ("#ff9900", [67, 128, 173], [527, 527, 465]),
           (SKY, [54, 186], [556, 556]), (SKY, [54, 186], [558, 558]),
           ("#999999", [48, 193], [571, 571]), ("#444444", [38, 122], [582, 582]),
           ("black", [74, 137, 150], [594, 594, 590]), (GOLD, [27, 215, 219], [605, 605, 600]),
           ("black", [139, 148, 157], [623, 623, 608])]
for c, xs, ys in leaders:
    ov.plot(xs, ys, color=c, lw=.8, solid_capstyle="butt")

fig.savefig("out.png", dpi=100, facecolor="white")
